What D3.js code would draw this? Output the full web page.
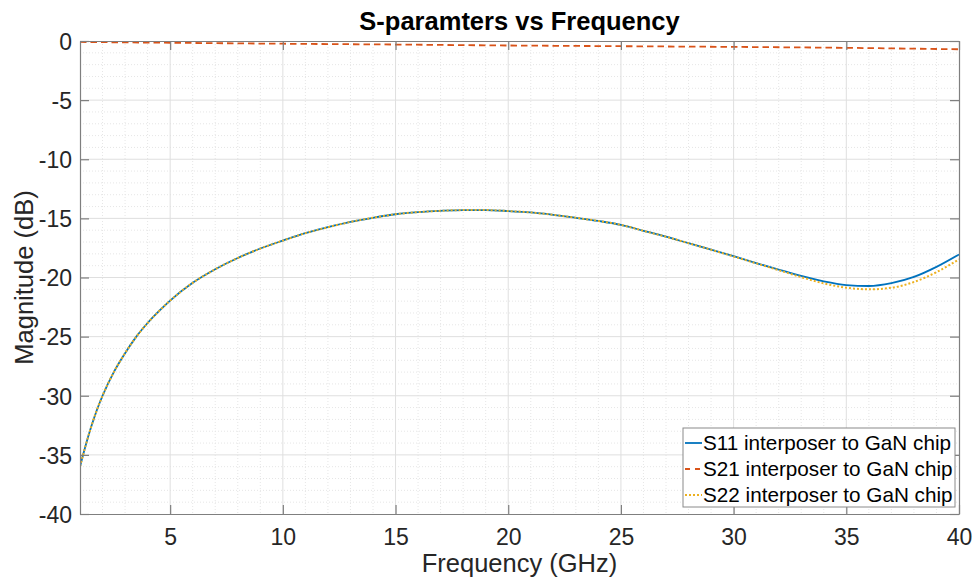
<!DOCTYPE html>
<html>
<head>
<meta charset="utf-8">
<script src="https://cdn.jsdelivr.net/npm/d3@7"></script>
<style>
  body { margin: 0; background: #fff; }
  svg { display: block; font-family: "Liberation Sans", Arial, sans-serif; }
</style>
</head>
<body>
<div id="chart"></div>
<script>
// Data
const freqGHz = [1, 1.25, 1.5, 1.75, 2, 2.5, 3, 3.5, 4, 4.5, 5, 6, 7, 8, 9, 10, 11, 12, 13, 14, 15, 16, 17, 18, 19, 20,
                 21, 22, 23, 24, 25, 26, 27, 28, 29, 30, 31, 32, 33, 34, 35, 36, 37, 38, 39, 40];
const s11 = [-36.0, -34.2, -32.6, -31.2, -30.0, -28.0, -26.4, -25.0, -23.85, -22.85, -21.95, -20.45, -19.3, -18.35, -17.55, -16.88,
             -16.25, -15.75, -15.3, -14.95, -14.65, -14.47, -14.36, -14.3, -14.3, -14.38, -14.5, -14.7, -14.95, -15.22,
             -15.55, -16.05, -16.55, -17.1, -17.65, -18.2, -18.78, -19.33, -19.87, -20.33, -20.64, -20.72, -20.48, -19.95, -19.1, -18.05];
const s22 = [-36.0, -34.2, -32.6, -31.2, -30.0, -28.0, -26.4, -25.0, -23.85, -22.85, -21.95, -20.45, -19.3, -18.35, -17.55, -16.88,
             -16.25, -15.75, -15.3, -14.95, -14.65, -14.47, -14.36, -14.3, -14.3, -14.38, -14.5, -14.7, -14.95, -15.22,
             -15.55, -16.05, -16.55, -17.1, -17.65, -18.22, -18.8, -19.38, -19.97, -20.5, -20.86, -21.0, -20.87, -20.38, -19.55, -18.46];
const s21Freq = [1, 5, 10, 15, 20, 25, 30, 35, 40];
const s21 = [-0.08, -0.15, -0.23, -0.3, -0.38, -0.44, -0.5, -0.58, -0.7];

const xTicks = [5, 10, 15, 20, 25, 30, 35, 40];
const yTicks = [-40, -35, -30, -25, -20, -15, -10, -5, 0];
const seriesNames = ["S11 interposer to GaN chip", "S21 interposer to GaN chip", "S22 interposer to GaN chip"];
const seriesColors = ["#0072BD", "#D95319", "#EDB120"];
const seriesDash = [null, "6.5,4", "2,2"];

const width = 975, height = 583;
const margin = {top: 41, right: 16, bottom: 69, left: 80};
const innerW = width - margin.left - margin.right;
const innerH = height - margin.top - margin.bottom;
const textColor = "#262626";

const svg = d3.select("#chart").append("svg")
    .attr("width", width)
    .attr("height", height);

const g = svg.append("g")
    .attr("transform", `translate(${margin.left},${margin.top})`);

const x = d3.scaleLinear().domain([1, 40]).range([0, innerW]);
const y = d3.scaleLinear().domain([-40, 0]).range([innerH, 0]);

// Minor grid (dotted, every 1 unit)
g.append("g")
    .selectAll("line")
    .data(d3.range(2, 40).filter(v => v % 5 !== 0))
    .enter().append("line")
    .attr("x1", d => x(d)).attr("x2", d => x(d))
    .attr("y1", 0).attr("y2", innerH)
    .attr("stroke", "#e6e6e6").attr("stroke-dasharray", "1,2");
g.append("g")
    .selectAll("line")
    .data(d3.range(-39, 0).filter(v => v % 5 !== 0))
    .enter().append("line")
    .attr("x1", 0).attr("x2", innerW)
    .attr("y1", d => y(d)).attr("y2", d => y(d))
    .attr("stroke", "#e6e6e6").attr("stroke-dasharray", "1,2");

// Major grid
g.append("g")
    .selectAll("line")
    .data(xTicks.filter(v => v < 40))
    .enter().append("line")
    .attr("x1", d => x(d)).attr("x2", d => x(d))
    .attr("y1", 0).attr("y2", innerH)
    .attr("stroke", "#dfdfdf");
g.append("g")
    .selectAll("line")
    .data(yTicks.filter(v => v > -40 && v < 0))
    .enter().append("line")
    .attr("x1", 0).attr("x2", innerW)
    .attr("y1", d => y(d)).attr("y2", d => y(d))
    .attr("stroke", "#dfdfdf");

// Lines
svg.append("clipPath").attr("id", "clip")
    .append("rect").attr("x", 0).attr("y", -2).attr("width", innerW).attr("height", innerH + 4);

const line = d3.line()
    .x(d => x(d[0]))
    .y(d => y(d[1]))
    .curve(d3.curveMonotoneX);

const series = [
    d3.zip(freqGHz, s11),
    d3.zip(s21Freq, s21),
    d3.zip(freqGHz, s22)
];

g.append("g").attr("clip-path", "url(#clip)")
    .selectAll("path")
    .data(series)
    .enter().append("path")
    .attr("d", line)
    .attr("fill", "none")
    .attr("stroke", (d, i) => seriesColors[i])
    .attr("stroke-width", (d, i) => i === 2 ? 2 : 1.8)
    .attr("stroke-dasharray", (d, i) => seriesDash[i]);

// Axes (box with inward ticks on all sides)
const axisColor = "#7f7f7f";
const tickLen = 9;
const plain = d => String(d); // hyphen minus, like the original

const xBottom = g.append("g")
    .attr("transform", `translate(0,${innerH})`)
    .call(d3.axisBottom(x).tickValues(xTicks).tickSizeInner(-tickLen).tickSizeOuter(0).tickFormat(plain));
const xTop = g.append("g")
    .call(d3.axisTop(x).tickValues(xTicks).tickSizeInner(-tickLen).tickSizeOuter(0).tickFormat(""));
const yLeft = g.append("g")
    .call(d3.axisLeft(y).tickValues(yTicks).tickSizeInner(-tickLen).tickSizeOuter(0).tickFormat(plain));
const yRight = g.append("g")
    .attr("transform", `translate(${innerW},0)`)
    .call(d3.axisRight(y).tickValues(yTicks).tickSizeInner(-tickLen).tickSizeOuter(0).tickFormat(""));

[xBottom, xTop, yLeft, yRight].forEach(a => {
    a.select(".domain").attr("stroke", axisColor).attr("stroke-width", 1.2);
    a.selectAll(".tick line").attr("stroke", axisColor).attr("stroke-width", 1.2);
    a.selectAll(".tick text")
        .attr("fill", textColor)
        .style("font-size", "23px");
});
xBottom.selectAll(".tick text").attr("dy", "0.71em").attr("y", 15);
yLeft.selectAll(".tick text").attr("dy", "0.36em").attr("x", -8);

// Axis labels
svg.append("text")
    .attr("x", margin.left + innerW / 2)
    .attr("y", 572)
    .attr("text-anchor", "middle")
    .attr("fill", textColor)
    .style("font-size", "25.5px")
    .text("Frequency (GHz)");

svg.append("text")
    .attr("transform", `translate(33,${margin.top + innerH / 2}) rotate(-90)`)
    .attr("text-anchor", "middle")
    .attr("fill", textColor)
    .style("font-size", "25.5px")
    .text("Magnitude (dB)");

// Title
svg.append("text")
    .attr("x", margin.left + innerW / 2)
    .attr("y", 30)
    .attr("text-anchor", "middle")
    .attr("fill", "#000")
    .style("font-size", "25.5px")
    .style("font-weight", "bold")
    .text("S-paramters vs Frequency");

// Legend
const legend = svg.append("g").attr("transform", "translate(683,428)");
legend.append("rect")
    .attr("width", 272).attr("height", 79)
    .attr("fill", "#fff")
    .attr("stroke", "#8a8a8a")
    .attr("stroke-width", 1);

const rows = legend.selectAll("g.row")
    .data(seriesNames)
    .enter().append("g")
    .attr("class", "row")
    .attr("transform", (d, i) => `translate(0,${15 + i * 26})`);

rows.append("line")
    .attr("x1", 2).attr("x2", 19)
    .attr("stroke", (d, i) => seriesColors[i])
    .attr("stroke-width", (d, i) => i === 2 ? 2 : 1.8)
    .attr("stroke-dasharray", (d, i) => i === 1 ? "5,5" : seriesDash[i]);

rows.append("text")
    .attr("x", 20)
    .attr("dy", "0.36em")
    .attr("fill", "#000")
    .style("font-size", "20.7px")
    .text(d => d);
</script>
</body>
</html>
